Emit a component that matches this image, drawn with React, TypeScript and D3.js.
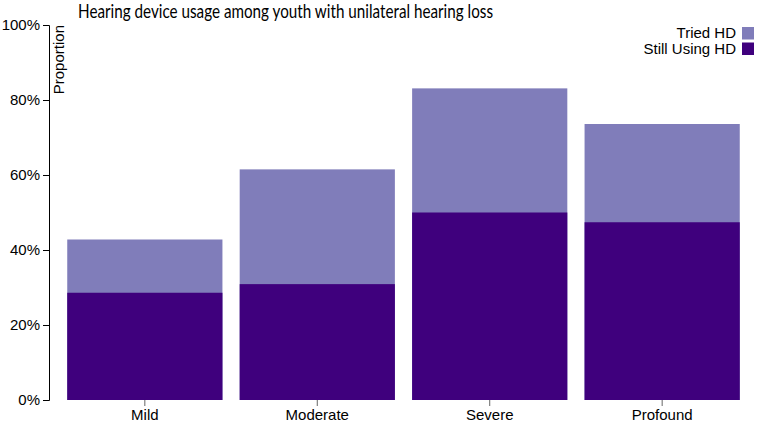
import React, { useEffect, useRef } from "react";
import * as d3 from "d3";

const categories = ["Mild", "Moderate", "Severe", "Profound"];
const triedHD = [0.428, 0.615, 0.831, 0.736];
const stillUsingHD = [0.286, 0.309, 0.5, 0.474];
const yTicks = [0, 0.2, 0.4, 0.6, 0.8, 1.0];
const legendLabels = ["Tried HD", "Still Using HD"];
const title = "Hearing device usage among youth with unilateral hearing loss";

const W = 760;
const H = 422;
const LIGHT = "#807dba";
const DARK = "#3f007d";

export default function App() {
  const ref = useRef<SVGSVGElement>(null);
  useEffect(() => {
    document.body.style.margin = "0";
    const svg = d3.select(ref.current);
    svg.selectAll("*").remove();
    const font = "'Liberation Sans', Arial, Helvetica, sans-serif";

    const x = d3.scaleBand<string>().domain(categories).range([50, 757]).paddingInner(0.1).paddingOuter(0.1);
    const y = d3.scaleLinear().domain([0, 1]).range([400, 25]);

    const g = svg.append("g");
    g.selectAll("rect.tried")
      .data(categories)
      .join("rect")
      .attr("class", "tried")
      .attr("x", (d) => x(d)!)
      .attr("width", x.bandwidth())
      .attr("y", (_, i) => y(triedHD[i]))
      .attr("height", (_, i) => y(0) - y(triedHD[i]))
      .attr("fill", LIGHT);
    g.selectAll("rect.still")
      .data(categories)
      .join("rect")
      .attr("class", "still")
      .attr("x", (d) => x(d)!)
      .attr("width", x.bandwidth())
      .attr("y", (_, i) => y(stillUsingHD[i]))
      .attr("height", (_, i) => y(0) - y(stillUsingHD[i]))
      .attr("fill", DARK);

    const yAxis = svg
      .append("g")
      .attr("transform", "translate(49,0)")
      .call(d3.axisLeft(y).tickValues(yTicks).tickFormat(d3.format(".0%")));
    yAxis.selectAll("text").attr("font-size", 15).attr("font-family", font).attr("fill", "#000");
    yAxis.selectAll("line,path").attr("stroke", "#000");

    yAxis
      .append("text")
      .attr("transform", "rotate(-90)")
      .attr("x", -25)
      .attr("y", 4)
      .attr("dy", ".71em")
      .attr("text-anchor", "end")
      .attr("font-size", 15)
      .attr("font-family", font)
      .attr("fill", "#000")
      .text("Proportion");

    const xAxis = svg
      .append("g")
      .attr("transform", "translate(0,400)")
      .call(d3.axisBottom(x).tickSizeOuter(0));
    xAxis.select(".domain").remove();
    xAxis.selectAll("line").attr("stroke", "#666");
    xAxis.selectAll("text").attr("font-size", 15).attr("font-family", font).attr("fill", "#000");

    svg
      .append("text")
      .attr("x", 78)
      .attr("y", 18)
      .attr("font-family", "Lato, sans-serif")
      .attr("font-size", 19)
      .attr("textLength", 415)
      .attr("lengthAdjust", "spacingAndGlyphs")
      .attr("fill", "#000")
      .text(title);

    const colors = [LIGHT, DARK];
    const lg = svg.append("g");
    legendLabels.forEach((lab, i) => {
      const yy = 27 + i * 15.5;
      lg.append("rect").attr("x", 742).attr("y", yy).attr("width", 12).attr("height", 12.5).attr("fill", colors[i]);
      lg.append("text")
        .attr("x", 736)
        .attr("y", yy + 11)
        .attr("text-anchor", "end")
        .attr("font-size", 15)
        .attr("font-family", font)
        .attr("fill", "#000")
        .text(lab);
    });
  }, []);
  return <svg ref={ref} width={W} height={H} style={{ display: "block" }} />;
}
